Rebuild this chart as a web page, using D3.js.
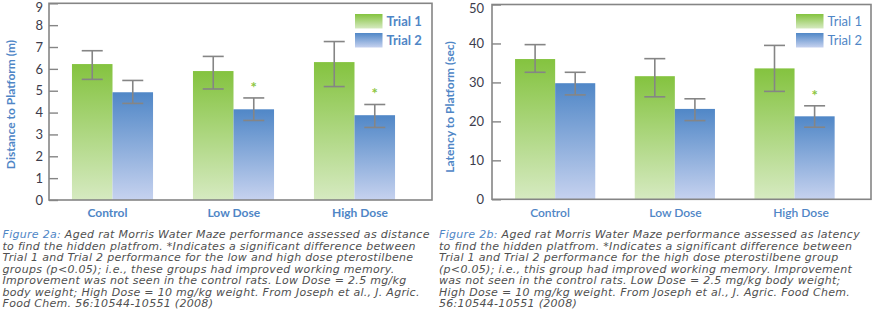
<!DOCTYPE html>
<html>
<head>
<meta charset="utf-8">
<script src="https://cdn.jsdelivr.net/npm/d3@7"></script>
<style>
  body { margin: 0; background: #fff; }
  svg { display: block; }
</style>
</head>
<body>
<svg id="fig" width="876" height="329"></svg>
<script>
// bar groups and series
var groups = ["Control", "Low Dose", "High Dose"];
var series = ["Trial 1", "Trial 2"];

// Fig 2a: distance to platform (m)
var distTrial1 = [6.22, 5.90, 6.31];
var distTrial2 = [4.93, 4.15, 3.88];
var distErr1 = [[5.52, 6.83], [5.08, 6.57], [5.19, 7.25]];
var distErr2 = [[4.42, 5.47], [3.64, 4.67], [3.32, 4.37]];
var distSig = [false, true, true];
var distTicks = [0, 1, 2, 3, 4, 5, 6, 7, 8, 9];

// Fig 2b: latency to platform (sec)
var latTrial1 = [36.0, 31.6, 33.6];
var latTrial2 = [29.8, 23.2, 21.3];
var latErr1 = [[32.6, 39.7], [26.3, 36.1], [27.7, 39.5]];
var latErr2 = [[26.8, 32.6], [20.2, 25.8], [18.5, 24.0]];
var latSig = [false, false, true];
var latTicks = [0, 10, 20, 30, 40, 50];

var captionA = [
  "to find the hidden platfrom. *Indicates a significant difference between",
  "Trial 1 and Trial 2 performance for the low and high dose pterostilbene",
  "groups (p<0.05); i.e., these groups had improved working memory.",
  "Improvement was not seen in the control rats. Low Dose = 2.5 mg/kg",
  "body weight; High Dose = 10 mg/kg weight. From Joseph et al., J. Agric.",
  "Food Chem. 56:10544-10551 (2008)"
];
var captionB = [
  "to find the hidden platfrom. *Indicates a significant difference between",
  "Trial 1 and Trial 2 performance for the high dose pterostilbene group",
  "(p<0.05); i.e., this group had improved working memory. Improvement",
  "was not seen in the control rats. Low Dose = 2.5 mg/kg body weight;",
  "High Dose = 10 mg/kg weight. From Joseph et al., J. Agric. Food Chem.",
  "56:10544-10551 (2008)"
];

var svg = d3.select("#fig");
var blue = "#4f86c6", gray = "#858585", labelFont = "Lato, 'Open Sans', sans-serif";

// vertical fades for the bars
var defs = svg.append("defs");
function fade(id, top, bottom) {
  var g = defs.append("linearGradient").attr("id", id)
    .attr("x1", 0).attr("y1", 0).attr("x2", 0).attr("y2", 1);
  g.append("stop").attr("offset", "0%").attr("stop-color", top);
  g.append("stop").attr("offset", "100%").attr("stop-color", bottom);
}
fade("gGreen", "#84c33f", "#d6eac1");
fade("gBlue", "#5087c7", "#c6d2ef");
var fills = ["url(#gGreen)", "url(#gBlue)"];

function panel(o) {
  var g = svg.append("g");
  var y = d3.scaleLinear().domain([0, o.ticks[o.ticks.length - 1]]).range([o.bottom, o.top]);
  var x0 = d3.scaleBand().domain(groups).range(o.band).paddingInner(0.33).paddingOuter(0.165);
  var x1 = d3.scaleBand().domain(series).range([0, x0.bandwidth()]);
  var lx = d3.scalePoint().domain(groups).range(o.labels);

  var rows = groups.map(function(name, i) {
    return { name: name, i: i, vals: [
      { s: 0, v: o.t1[i], e: o.e1[i] },
      { s: 1, v: o.t2[i], e: o.e2[i] }
    ]};
  });

  var grp = g.selectAll("g.grp").data(rows).enter().append("g")
    .attr("class", "grp")
    .attr("transform", function(d) { return "translate(" + x0(d.name) + ",0)"; });

  grp.selectAll("rect").data(function(d) { return d.vals; }).enter().append("rect")
    .attr("x", function(d) { return x1(series[d.s]); })
    .attr("y", function(d) { return y(d.v); })
    .attr("width", x1.bandwidth())
    .attr("height", function(d) { return y(0) - y(d.v); })
    .attr("fill", function(d) { return fills[d.s]; });

  // error bars
  var eb = grp.selectAll("g.err").data(function(d) { return d.vals; }).enter().append("g")
    .attr("class", "err")
    .attr("transform", function(d) { return "translate(" + (x1(series[d.s]) + x1.bandwidth() / 2) + ",0)"; })
    .attr("stroke", gray).attr("stroke-width", 1.6).attr("fill", "none");
  eb.append("line").attr("x1", 0).attr("x2", 0)
    .attr("y1", function(d) { return y(d.e[0]); })
    .attr("y2", function(d) { return y(d.e[1]); });
  eb.append("line").attr("x1", -10.5).attr("x2", 10.5)
    .attr("y1", function(d) { return y(d.e[1]); })
    .attr("y2", function(d) { return y(d.e[1]); });
  eb.append("line").attr("x1", -10.5).attr("x2", 10.5)
    .attr("y1", function(d) { return y(d.e[0]); })
    .attr("y2", function(d) { return y(d.e[0]); });

  // significance marks over Trial 2
  grp.filter(function(d) { return o.sig[d.i]; }).append("text")
    .attr("x", x1("Trial 2") + x1.bandwidth() / 2)
    .attr("y", function(d) { return y(d.vals[1].e[1]) - 5; })
    .attr("text-anchor", "middle")
    .attr("fill", "#8cc63f")
    .style("font", "bold 15px " + labelFont)
    .text("*");

  // frame
  g.append("rect")
    .attr("x", o.band0).attr("y", o.top)
    .attr("width", o.right - o.band0).attr("height", o.bottom - o.top)
    .attr("fill", "none").attr("stroke", gray).attr("stroke-width", 1.6);

  var ax = g.append("g").attr("transform", "translate(" + o.band0 + ",0)")
    .call(d3.axisLeft(y).tickValues(o.ticks).tickSizeInner(-9).tickSizeOuter(0).tickPadding(o.pad));
  ax.select(".domain").remove();
  ax.selectAll(".tick line").attr("stroke", gray).attr("stroke-width", 1.4);
  ax.selectAll(".tick text").attr("fill", "#3c3c4c")
    .style("font", "13px " + labelFont);
  // keep the top label inside the page
  ax.selectAll(".tick text").filter(function(d) { return d === o.ticks[o.ticks.length - 1]; })
    .attr("y", 4);

  // group labels
  g.selectAll("text.cat").data(groups).enter().append("text")
    .attr("class", "cat")
    .attr("x", function(d) { return lx(d); })
    .attr("y", 217)
    .attr("text-anchor", "middle")
    .attr("fill", blue)
    .style("font", o.catWeight + " 12px " + labelFont)
    .text(function(d) { return d; });

  // y title
  g.append("text")
    .attr("transform", "translate(" + o.titleX + "," + o.titleY + ") rotate(-90)")
    .attr("text-anchor", "middle")
    .attr("fill", blue)
    .style("font", "bold 12px " + labelFont)
    .text(o.title);

  // legend
  var lg = g.selectAll("g.leg").data(series).enter().append("g")
    .attr("class", "leg")
    .attr("transform", function(d, i) { return "translate(" + o.legX + "," + (14 + i * 19) + ")"; });
  lg.append("rect").attr("width", 27.5).attr("height", 14.5)
    .attr("fill", function(d, i) { return fills[i]; });
  lg.append("text").attr("x", 31.5).attr("y", 12)
    .attr("fill", blue)
    .style("font", o.legWeight + " 13px " + labelFont)
    .text(function(d) { return d; });

  // caption
  var cap = g.append("text").attr("x", o.capX).attr("y", 238)
    .style("font", "italic 11px 'DejaVu Sans', sans-serif")
    .style("letter-spacing", "0.3px")
    .attr("fill", "#505050");
  var first = cap.append("tspan");
  first.append("tspan").attr("fill", blue).text(o.capHead);
  first.append("tspan").text(o.capRest);
  o.caption.forEach(function(line, i) {
    cap.append("tspan").attr("x", o.capX).attr("y", 238 + (i + 1) * 11.5).text(line);
  });
}

panel({
  t1: distTrial1, t2: distTrial2, e1: distErr1, e2: distErr2, sig: distSig, ticks: distTicks,
  top: 3.3, bottom: 200, band0: 49, right: 432, band: [52, 415], labels: [107.5, 360], pad: 6,
  title: "Distance to Platform (m)", titleX: 15, titleY: 104.5,
  legX: 355, legWeight: "bold", catWeight: "bold",
  capX: 2.5, capHead: "Figure 2a:",
  capRest: " Aged rat Morris Water Maze performance assessed as distance",
  caption: captionA
});

panel({
  t1: latTrial1, t2: latTrial2, e1: latErr1, e2: latErr2, sig: latSig, ticks: latTicks,
  top: 4.5, bottom: 199.3, band0: 492, right: 871, band: [495.3, 854.4], labels: [550, 801], pad: 8,
  title: "Latency to Platform (sec)", titleX: 454, titleY: 107,
  legX: 796, legWeight: "normal", catWeight: "600",
  capX: 439, capHead: "Figure 2b:",
  capRest: " Aged rat Morris Water Maze performance assessed as latency",
  caption: captionB
});
</script>
</body>
</html>
